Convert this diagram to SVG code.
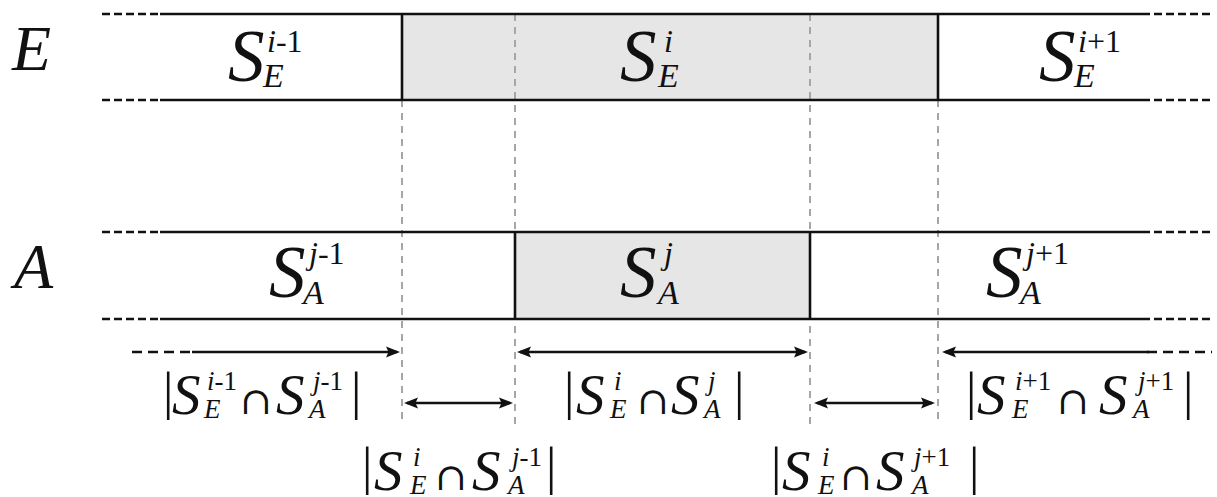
<svg xmlns="http://www.w3.org/2000/svg" width="1217" height="497" viewBox="0 0 1217 497">
  <defs>
    <marker id="head" markerUnits="userSpaceOnUse" markerWidth="14" markerHeight="12" refX="11" refY="6" orient="auto-start-reverse">
      <path d="M0,0.5 L14,6 L0,11.5 L2.5,6 z" fill="#111"/>
    </marker>
  </defs>

  <rect x="0" y="0" width="1217" height="497" fill="#ffffff"/>

  <!-- shaded segments -->
  <rect x="402" y="14" width="536" height="86" fill="#e6e6e6"/>
  <rect x="515" y="232" width="295" height="87" fill="#e6e6e6"/>

  <!-- connectors: boundary guides, strip rules and measure arrows -->
  <g id="connectors" fill="none">
    <g stroke="#a6a6a6" stroke-width="2" stroke-dasharray="7 6">
      <line x1="402" y1="100" x2="402" y2="425"/>
      <line x1="515" y1="14" x2="515" y2="425"/>
      <line x1="810" y1="14" x2="810" y2="425"/>
      <line x1="938" y1="100" x2="938" y2="425"/>
    </g>
    <g stroke="#111" stroke-width="2.6" stroke-dasharray="8 4">
      <line x1="102" y1="14" x2="160" y2="14"/>
      <line x1="1154" y1="14" x2="1212" y2="14"/>
      <line x1="102" y1="100" x2="160" y2="100"/>
      <line x1="1154" y1="100" x2="1212" y2="100"/>
      <line x1="102" y1="232" x2="160" y2="232"/>
      <line x1="1154" y1="232" x2="1212" y2="232"/>
      <line x1="102" y1="319" x2="160" y2="319"/>
      <line x1="1154" y1="319" x2="1212" y2="319"/>
    </g>
    <g stroke="#111" stroke-width="2.6">
      <line x1="160" y1="14" x2="1150" y2="14"/>
      <line x1="160" y1="100" x2="1150" y2="100"/>
      <line x1="402" y1="14" x2="402" y2="100"/>
      <line x1="938" y1="14" x2="938" y2="100"/>
      <line x1="160" y1="232" x2="1150" y2="232"/>
      <line x1="160" y1="319" x2="1150" y2="319"/>
      <line x1="515" y1="232" x2="515" y2="319"/>
      <line x1="810" y1="232" x2="810" y2="319"/>
    </g>
    <g stroke="#111" stroke-width="2.6" stroke-dasharray="10 6">
      <line x1="132" y1="352" x2="194" y2="352"/>
      <line x1="1147" y1="352" x2="1212" y2="352"/>
    </g>
    <g stroke="#111" stroke-width="2.6">
      <line x1="192" y1="352" x2="397" y2="352" marker-end="url(#head)"/>
      <line x1="520" y1="352" x2="805" y2="352" marker-start="url(#head)" marker-end="url(#head)"/>
      <line x1="945" y1="352" x2="1149" y2="352" marker-start="url(#head)"/>
      <line x1="407" y1="403" x2="510" y2="403" marker-start="url(#head)" marker-end="url(#head)"/>
      <line x1="817" y1="403" x2="932" y2="403" marker-start="url(#head)" marker-end="url(#head)"/>
    </g>
  </g>

  <!-- strip names -->
  <g id="label-E"><text x="12" y="70" font-family="Liberation Serif" font-style="italic" font-size="64" fill="#111">E</text></g>
  <g id="label-A"><text x="14" y="288" font-family="Liberation Serif" font-style="italic" font-size="64" fill="#111">A</text></g>

  <!-- E segments -->
  <g id="SE-prev" fill="#111">
    <text x="228" y="81" font-family="Liberation Serif" font-style="italic" font-size="73">S</text>
    <text x="267" y="52" font-family="Liberation Serif" font-size="32"><tspan font-style="italic">i</tspan>-1</text>
    <text x="263" y="87" font-family="Liberation Serif" font-style="italic" font-size="34">E</text>
  </g>
  <g id="SE-cur" fill="#111">
    <text x="620" y="81" font-family="Liberation Serif" font-style="italic" font-size="73">S</text>
    <text x="664" y="52" font-family="Liberation Serif" font-style="italic" font-size="32">i</text>
    <text x="658" y="87" font-family="Liberation Serif" font-style="italic" font-size="34">E</text>
  </g>
  <g id="SE-next" fill="#111">
    <text x="1039" y="81" font-family="Liberation Serif" font-style="italic" font-size="73">S</text>
    <text x="1078" y="52" font-family="Liberation Serif" font-size="32"><tspan font-style="italic">i</tspan>+1</text>
    <text x="1074" y="87" font-family="Liberation Serif" font-style="italic" font-size="34">E</text>
  </g>

  <!-- A segments -->
  <g id="SA-prev" fill="#111">
    <text x="269" y="297" font-family="Liberation Serif" font-style="italic" font-size="73">S</text>
    <text x="309" y="264" font-family="Liberation Serif" font-size="32"><tspan font-style="italic">j</tspan>-1</text>
    <text x="303" y="304" font-family="Liberation Serif" font-style="italic" font-size="34">A</text>
  </g>
  <g id="SA-cur" fill="#111">
    <text x="620" y="297" font-family="Liberation Serif" font-style="italic" font-size="73">S</text>
    <text x="664" y="264" font-family="Liberation Serif" font-style="italic" font-size="32">j</text>
    <text x="658" y="304" font-family="Liberation Serif" font-style="italic" font-size="34">A</text>
  </g>
  <g id="SA-next" fill="#111">
    <text x="986" y="297" font-family="Liberation Serif" font-style="italic" font-size="73">S</text>
    <text x="1026" y="264" font-family="Liberation Serif" font-size="32"><tspan font-style="italic">j</tspan>+1</text>
    <text x="1020" y="304" font-family="Liberation Serif" font-style="italic" font-size="34">A</text>
  </g>

  <!-- overlap sizes, first row -->
  <g id="ov-prev-prev" fill="#111">
    <text x="163" y="409" font-family="Liberation Serif" font-size="52">|</text>
    <text x="172" y="414" font-family="Liberation Serif" font-style="italic" font-size="57">S</text>
    <text x="207" y="390" font-family="Liberation Serif" font-size="27"><tspan font-style="italic">i</tspan>-1</text>
    <text x="204" y="418" font-family="Liberation Serif" font-style="italic" font-size="27">E</text>
    <text x="240" y="414" font-family="DejaVu Serif" font-size="38">∩</text>
    <text x="276" y="414" font-family="Liberation Serif" font-style="italic" font-size="57">S</text>
    <text x="313" y="390" font-family="Liberation Serif" font-size="27"><tspan font-style="italic">j</tspan>-1</text>
    <text x="309" y="418" font-family="Liberation Serif" font-style="italic" font-size="27">A</text>
    <text x="351" y="409" font-family="Liberation Serif" font-size="52">|</text>
  </g>
  <g id="ov-cur-cur" fill="#111">
    <text x="564" y="409" font-family="Liberation Serif" font-size="52">|</text>
    <text x="576" y="414" font-family="Liberation Serif" font-style="italic" font-size="57">S</text>
    <text x="614" y="390" font-family="Liberation Serif" font-style="italic" font-size="27">i</text>
    <text x="610" y="418" font-family="Liberation Serif" font-style="italic" font-size="27">E</text>
    <text x="637" y="414" font-family="DejaVu Serif" font-size="38">∩</text>
    <text x="671" y="414" font-family="Liberation Serif" font-style="italic" font-size="57">S</text>
    <text x="708" y="390" font-family="Liberation Serif" font-style="italic" font-size="27">j</text>
    <text x="704" y="418" font-family="Liberation Serif" font-style="italic" font-size="27">A</text>
    <text x="734" y="409" font-family="Liberation Serif" font-size="52">|</text>
  </g>
  <g id="ov-next-next" fill="#111">
    <text x="966" y="409" font-family="Liberation Serif" font-size="52">|</text>
    <text x="977" y="414" font-family="Liberation Serif" font-style="italic" font-size="57">S</text>
    <text x="1015" y="390" font-family="Liberation Serif" font-size="27"><tspan font-style="italic">i</tspan>+1</text>
    <text x="1012" y="418" font-family="Liberation Serif" font-style="italic" font-size="27">E</text>
    <text x="1057" y="414" font-family="DejaVu Serif" font-size="38">∩</text>
    <text x="1099" y="414" font-family="Liberation Serif" font-style="italic" font-size="57">S</text>
    <text x="1138" y="390" font-family="Liberation Serif" font-size="27"><tspan font-style="italic">j</tspan>+1</text>
    <text x="1133" y="418" font-family="Liberation Serif" font-style="italic" font-size="27">A</text>
    <text x="1183" y="409" font-family="Liberation Serif" font-size="52">|</text>
  </g>

  <!-- overlap sizes, second row -->
  <g id="ov-cur-prev" fill="#111">
    <text x="362" y="484" font-family="Liberation Serif" font-size="52">|</text>
    <text x="374" y="490" font-family="Liberation Serif" font-style="italic" font-size="57">S</text>
    <text x="413" y="466" font-family="Liberation Serif" font-style="italic" font-size="27">i</text>
    <text x="410" y="494" font-family="Liberation Serif" font-style="italic" font-size="27">E</text>
    <text x="435" y="490" font-family="DejaVu Serif" font-size="38">∩</text>
    <text x="472" y="490" font-family="Liberation Serif" font-style="italic" font-size="57">S</text>
    <text x="512" y="466" font-family="Liberation Serif" font-size="27"><tspan font-style="italic">j</tspan>-1</text>
    <text x="508" y="494" font-family="Liberation Serif" font-style="italic" font-size="27">A</text>
    <text x="546" y="484" font-family="Liberation Serif" font-size="52">|</text>
  </g>
  <g id="ov-cur-next" fill="#111">
    <text x="771" y="484" font-family="Liberation Serif" font-size="52">|</text>
    <text x="782" y="490" font-family="Liberation Serif" font-style="italic" font-size="57">S</text>
    <text x="822" y="466" font-family="Liberation Serif" font-style="italic" font-size="27">i</text>
    <text x="818" y="494" font-family="Liberation Serif" font-style="italic" font-size="27">E</text>
    <text x="840" y="490" font-family="DejaVu Serif" font-size="38">∩</text>
    <text x="876" y="490" font-family="Liberation Serif" font-style="italic" font-size="57">S</text>
    <text x="914" y="466" font-family="Liberation Serif" font-size="27"><tspan font-style="italic">j</tspan>+1</text>
    <text x="912" y="494" font-family="Liberation Serif" font-style="italic" font-size="27">A</text>
    <text x="969" y="484" font-family="Liberation Serif" font-size="52">|</text>
  </g>
</svg>
